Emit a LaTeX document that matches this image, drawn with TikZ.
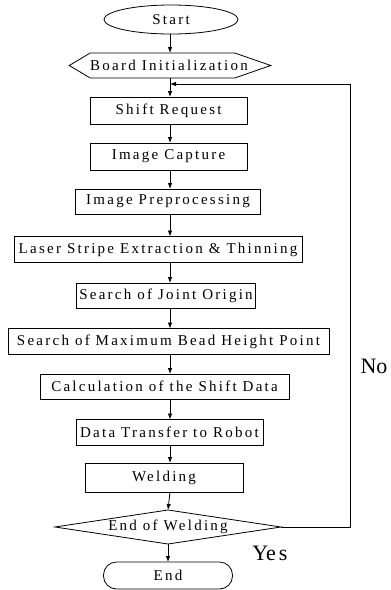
\documentclass[tikz,border=0pt]{standalone}
\usepackage{fontspec}
\setmainfont{Liberation Serif}
\newfontfamily\boxfont[LetterSpace=15]{Liberation Serif}
\usetikzlibrary{arrows.meta,shapes.geometric}
\begin{document}
\begin{tikzpicture}[x=1pt,y=-1pt,
  every node/.style={inner sep=0pt,outer sep=0pt},
  boxtext/.style={font=\boxfont\fontsize{15}{18}\selectfont},
  procbox/.style={draw,line width=0.8pt,minimum height=26pt,boxtext},
  ghost/.style={minimum height=25pt,boxtext},
  flow/.style={line width=0.8pt,-{Latex[length=6pt,width=4.5pt]}},
  line/.style={line width=0.8pt},
  big/.style={font=\fontsize{22}{24}\selectfont}]
\useasboundingbox (0,0) rectangle (391,590);
\coordinate (spine) at (170,0);
\node[draw,line width=0.8pt,ellipse,minimum width=134pt,minimum height=29pt,boxtext] (start) at (171,19.5) {Start};
\node[ghost,minimum width=148pt] (board) at (169,65.5) {Board Initialization};
\draw[line] (board.north west) -- ([xshift=-13pt]board.north east) -- ([xshift=23pt]board.east) -- ([xshift=-13pt]board.south east) -- (board.south west) -- ([xshift=-21pt]board.west) -- cycle;
\node[procbox,minimum width=157pt,minimum height=27pt] (shift) at (168.5,110.5) {Shift Request};
\node[procbox,minimum width=157pt,minimum height=27pt] (capture) at (168.5,156.5) {Image Capture};
\node[procbox,minimum width=185pt,minimum height=25pt] (prep) at (168,201.5) {Image Preprocessing};
\node[procbox,minimum width=288pt] (laser) at (158,249.5) {Laser Stripe Extraction \& Thinning};
\node[procbox,minimum width=179pt,minimum height=25pt] (joint) at (166,295.5) {Search of Joint Origin};
\node[procbox,minimum width=321pt] (maxh) at (168.5,341.5) {Search of Maximum Bead Height Point};
\node[procbox,minimum width=249pt,minimum height=25pt] (calc) at (164.5,386.5) {Calculation of the Shift Data};
\node[procbox,minimum width=187pt] (data) at (169.5,432.5) {Data Transfer to Robot};
\node[procbox,minimum width=158pt,minimum height=29pt] (weld) at (164,477.5) {Welding};
\node[ghost,minimum width=226pt,minimum height=34pt] (dia) at (168,527) {End of Welding};
\draw[line] (dia.west) -- (dia.north) -- (dia.east) -- (dia.south) -- cycle;
\node[procbox,rounded corners=13pt,minimum width=129pt,minimum height=27pt] (end) at (168,575.5) {End};
\node[big] (no) at (374,366) {No};
\node[big] (yes) at (270,553) {Ye\hspace{3pt}s};
\draw[flow] (spine |- start.south) -- (spine |- board.north);
\draw[flow] (spine |- board.south) -- (spine |- shift.north);
\draw[flow] (spine |- shift.south) -- (spine |- capture.north);
\draw[flow] (spine |- capture.south) -- (spine |- prep.north);
\draw[flow] (spine |- prep.south) -- (spine |- laser.north);
\draw[flow] (spine |- laser.south) -- (spine |- joint.north);
\draw[flow] (spine |- joint.south) -- (spine |- maxh.north);
\draw[flow] (spine |- maxh.south) -- (spine |- calc.north);
\draw[flow] (spine |- calc.south) -- (spine |- data.north);
\draw[flow] (spine |- data.south) -- (spine |- weld.north);
\draw[flow] (spine |- weld.south) -- (dia.north);
\draw[flow] (dia.south) -- (end.north);
\coordinate (loopTop) at (350,84);
\draw[flow] (dia.east) -| (loopTop) -- (spine |- loopTop);
\end{tikzpicture}
\end{document}
